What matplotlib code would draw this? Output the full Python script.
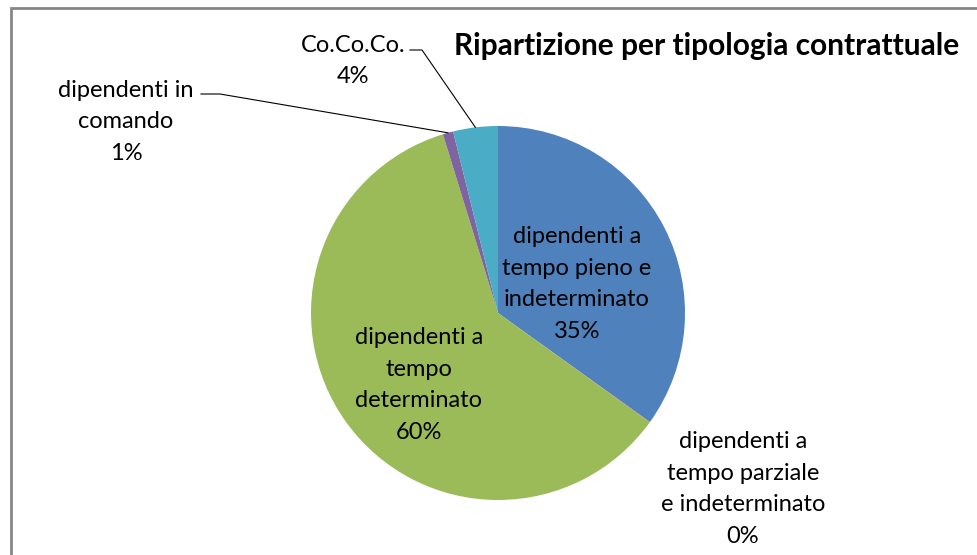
import numpy as np
import matplotlib
matplotlib.use("Agg")
import matplotlib.pyplot as plt
from matplotlib.patches import Rectangle

plt.rcParams['font.family'] = ['Lato', 'DejaVu Sans']

# data (share of contracts, %)
categories = ['dipendenti a\ntempo pieno e\nindeterminato',
              'dipendenti a\ntempo parziale\ne indeterminato',
              'dipendenti a\ntempo\ndeterminato',
              'dipendenti in\ncomando',
              'Co.Co.Co.']
values = [34.9, 0.04, 60.3, 0.9, 3.86]
colors = ['#4F81BD', '#C0504D', '#9BBB59', '#8064A2', '#4BACC6']
title = 'Ripartizione per tipologia contrattuale'

W, H = 978, 555
fig = plt.figure(figsize=(W / 100, H / 100), dpi=100)
ax = fig.add_axes([0, 0, 1, 1])


def py(y):
    # pixel row (from top) -> data y
    return H - y


cx, cy, r = 498, py(313), 187
wedges, _ = ax.pie(values, colors=colors, startangle=90, counterclock=False,
                   center=(cx, cy), radius=r, frame=True,
                   wedgeprops=dict(linewidth=0))
ax.set_xlim(0, W)
ax.set_ylim(0, H)
ax.set_aspect('equal')
ax.axis('off')

total = sum(values)
pct = [f'{round(v / total * 100):.0f}%' for v in values]
labels = [c + '\n' + p for c, p in zip(categories, pct)]

fs = 17
# label positions (pixel coords of text centre)
pos = [(577, 284), (743, 489), (419, 385), (126, 122), (353, 61)]
for i, (lx, ly) in enumerate(pos):
    ax.text(lx, py(ly), labels[i], ha='center', va='center', fontsize=fs,
            linespacing=1.63, color='black')

# leader lines for the small outer slices
leaders = [(201, 94, 220), (410, 50, 422)]
for i, (sx, sy, kx) in zip([3, 4], leaders):
    w = wedges[i]
    mid = np.deg2rad((w.theta1 + w.theta2) / 2)
    ex, ey = cx + r * np.cos(mid), cy + r * np.sin(mid)
    ax.plot([sx, kx, ex], [py(sy), py(sy), ey], color='black', lw=0.8)

ax.text(707, py(46), title, ha='center', va='center', fontsize=21.5,
        fontweight='bold')

ax.add_patch(Rectangle((11, py(560)), 990, 552, fill=False,
                       edgecolor='#868686', lw=2, clip_on=False))

fig.savefig('out.png', dpi=100)
